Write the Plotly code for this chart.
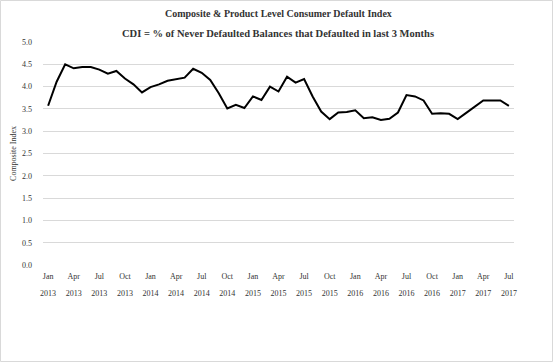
import plotly.graph_objects as go

months = ["Jan", "Feb", "Mar", "Apr", "May", "Jun", "Jul", "Aug", "Sep", "Oct", "Nov", "Dec"]
years = [2013, 2014, 2015, 2016, 2017]

# Composite index, monthly Jan 2013 .. Jul 2017
cdi = [
    3.57, 4.11, 4.50, 4.41, 4.44, 4.44, 4.38, 4.29, 4.35, 4.18, 4.05, 3.87,   # 2013
    3.99, 4.05, 4.13, 4.17, 4.20, 4.40, 4.31, 4.15, 3.85, 3.51, 3.59, 3.52,   # 2014
    3.78, 3.70, 4.00, 3.89, 4.22, 4.09, 4.17, 3.78, 3.44, 3.27, 3.42, 3.43,   # 2015
    3.47, 3.29, 3.31, 3.25, 3.28, 3.42, 3.81, 3.78, 3.69, 3.39, 3.40, 3.39,   # 2016
    3.27, 3.41, 3.54, 3.69, 3.69, 3.69, 3.57,                                 # 2017
]

idx = list(range(len(cdi)))
tick_idx = idx[::3]
tick_month = [months[i % 12] for i in tick_idx]
tick_year = [str(years[i // 12]) for i in tick_idx]

y_ticks = [0.0, 0.5, 1.0, 1.5, 2.0, 2.5, 3.0, 3.5, 4.0, 4.5, 5.0]

FONT = "Liberation Serif"
TXT = "#333333"

fig = go.Figure()
fig.add_trace(go.Scatter(x=idx, y=cdi, mode="lines",
                         line=dict(color="#000000", width=2), showlegend=False))
fig.add_trace(go.Scatter(x=idx, y=cdi, mode="lines", xaxis="x2",
                         line=dict(color="rgba(0,0,0,0)", width=0),
                         hoverinfo="skip", showlegend=False))

L, R, T, B = 43, 41, 42, 97
W, H = 555, 362
pw, ph = W - L - R, H - T - B

fig.update_layout(
    width=W, height=H,
    margin=dict(l=L, r=R, t=T, b=B, autoexpand=False),
    paper_bgcolor="white", plot_bgcolor="white",
    font=dict(family=FONT, color=TXT, size=8),
    xaxis=dict(range=[-0.6, 54.6], tickmode="array", tickvals=tick_idx, ticktext=tick_month,
               showgrid=False, zeroline=False, showline=False, ticks="", automargin=False,
               tickfont=dict(size=8, family=FONT, color=TXT), ticklabelstandoff=5),
    xaxis2=dict(range=[-0.6, 54.6], overlaying="x", anchor="free", position=0, side="bottom",
                tickmode="array", tickvals=tick_idx, ticktext=tick_year, automargin=False,
                showgrid=False, zeroline=False, showline=False, ticks="",
                tickfont=dict(size=8, family=FONT, color=TXT), ticklabelstandoff=22),
    yaxis=dict(range=[0, 5], tickmode="array", tickvals=y_ticks,
               ticktext=[f"{v:.1f}" for v in y_ticks], automargin=False,
               showgrid=True, gridcolor="#d9d9d9", gridwidth=1, zeroline=False,
               showline=False, ticks="", ticklabelstandoff=10,
               tickfont=dict(size=8, family=FONT, color=TXT),
               title=dict(text="Composite Index", font=dict(size=8, family=FONT, color=TXT), standoff=4)),
    annotations=[
        dict(text="<b>Composite & Product Level Consumer Default Index</b>", xref="paper", yref="paper",
             x=(278 - L) / pw, y=(H - B - 13) / ph, xanchor="center", yanchor="middle",
             showarrow=False, font=dict(size=10, family=FONT, color=TXT)),
        dict(text="<b>CDI = % of Never Defaulted Balances that Defaulted in last 3 Months</b>", xref="paper", yref="paper",
             x=(278 - L) / pw, y=(H - B - 33) / ph, xanchor="center", yanchor="middle",
             showarrow=False, font=dict(size=10.5, family=FONT, color=TXT)),
    ],
    shapes=[dict(type="rect", xref="paper", yref="paper",
                 x0=(0.5 - L) / pw, x1=(W - 2.5 - L) / pw,
                 y0=(H - B - (H - 0.5)) / ph, y1=(H - B - 0.5) / ph,
                 line=dict(color="#d9d9d9", width=1), fillcolor="rgba(0,0,0,0)", layer="below")],
)

fig.write_html("out.html", config={"displayModeBar": False},
               post_script="document.body.style.margin='0';document.body.style.overflow='hidden';")
